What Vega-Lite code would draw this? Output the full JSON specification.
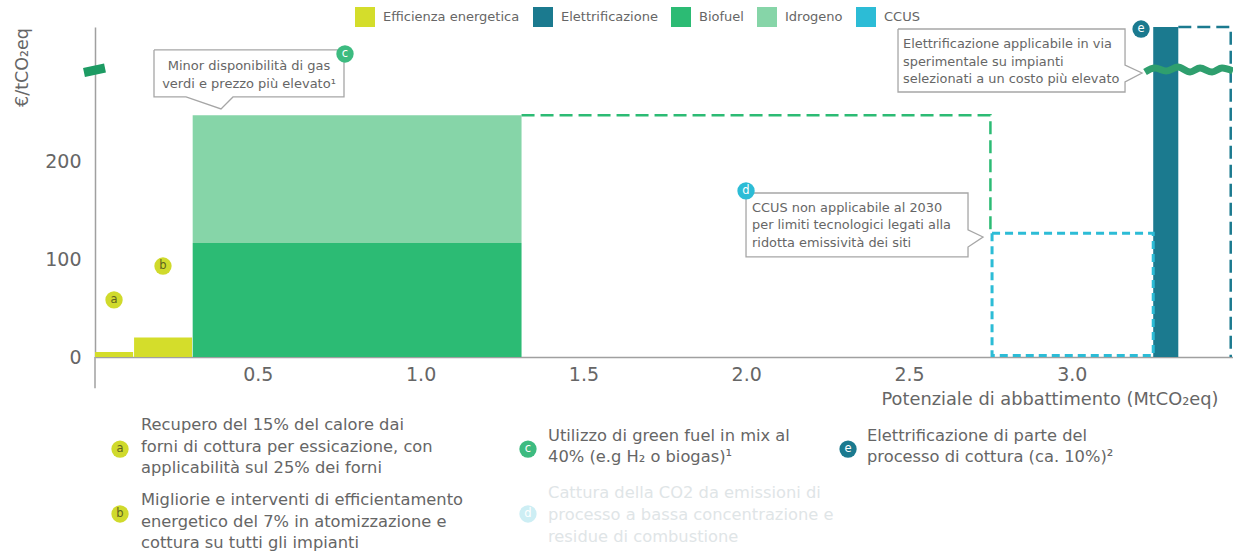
{
"$schema":"https://vega.github.io/schema/vega-lite/v6.json",
"width":1138,"height":330,
"autosize":"none",
"padding":{"left":95,"top":27,"right":0,"bottom":195},
"background":"white",
"config":{"view":{"stroke":null},"font":"DejaVu Sans"},
"encoding":{
"x":{"field":"x","type":"quantitative","scale":{"domain":[0,3.495],"nice":false,"zero":false},
"axis":{"values":[0.5,1,1.5,2,2.5,3],"format":".1f","grid":false,"ticks":false,"labelFontSize":19,"labelColor":"#666666","labelPadding":8,"domainColor":"#a0a0a0","domainWidth":1.5,"title":"Potenziale di abbattimento (MtCO₂eq)","titleFontSize":17.8,"titleFontWeight":"normal","titleColor":"#666666","titleAlign":"right","titleAnchor":"end","titleX":1123,"titleY":33}},
"y":{"field":"y","type":"quantitative","scale":{"domain":[0,338.46],"nice":false,"zero":false},
"axis":{"values":[0,100,200],"grid":false,"ticks":false,"labelFontSize":19,"labelColor":"#666666","labelPadding":14,"domainColor":"#a0a0a0","domainWidth":1.5,"title":"€/tCO₂eq","titleFontSize":17.5,"titleFontWeight":"normal","titleColor":"#666666","titleX":-64,"titleY":40,"titleAlign":"center"}}
},
"layer":[
{"data":{"values":[
{"tech":"Efficienza energetica","x":0,"x2":0.117,"y":0,"y2":5},
{"tech":"Efficienza energetica","x":0.12,"x2":0.298,"y":0,"y2":20},
{"tech":"Biofuel","x":0.3,"x2":1.31,"y":0,"y2":117},
{"tech":"Idrogeno","x":0.3,"x2":1.31,"y":117,"y2":248},
{"tech":"Elettrificazione","x":3.25,"x2":3.327,"y":0,"y2":338.4}
]},
"mark":{"type":"rect"},
"encoding":{"x2":{"field":"x2"},"y2":{"field":"y2"},
"color":{"field":"tech","type":"nominal","scale":{"domain":["Efficienza energetica","Elettrificazione","Biofuel","Idrogeno","CCUS"],"range":["#d4dd2b","#1b7a8f","#2cbb74","#86d5a8","#2cbcd6"]},
"legend":{"title":null,"orient":"none","legendX":260,"legendY":-20,"direction":"horizontal","gridAlign":"none","columns":5,"symbolType":"square","symbolSize":400,"symbolStrokeWidth":0,"symbolOpacity":1,"labelFontSize":13,"labelColor":"#666666","labelOffset":8,"columnPadding":13,"padding":0}}}},
{"data":{"values":[
{"tech":"Biofuel","i":1,"x":1.31,"y":248},{"tech":"Biofuel","i":2,"x":2.75,"y":248},{"tech":"Biofuel","i":3,"x":2.75,"y":127},
{"tech":"Elettrificazione","i":1,"x":3.327,"y":338.4},{"tech":"Elettrificazione","i":2,"x":3.488,"y":338.4},{"tech":"Elettrificazione","i":3,"x":3.488,"y":0}
]},
"mark":{"type":"line","strokeWidth":2.5,"strokeDash":[13,6],"clip":false},
"encoding":{"color":{"field":"tech","type":"nominal","legend":null},"order":{"field":"i","type":"quantitative"}}},
{"data":{"values":[
{"tech":"CCUS","i":1,"x":2.755,"y":127},{"tech":"CCUS","i":2,"x":3.25,"y":127},{"tech":"CCUS","i":3,"x":3.25,"y":1.5},{"tech":"CCUS","i":4,"x":2.755,"y":1.5},{"tech":"CCUS","i":5,"x":2.755,"y":127}
]},
"mark":{"type":"line","strokeWidth":3,"strokeDash":[8,5],"clip":false},
"encoding":{"color":{"field":"tech","type":"nominal","legend":null},"order":{"field":"i","type":"quantitative"}}},
{"data":{"values":[{"x":0,"y":-32,"y2":0}]},"mark":{"type":"rule","color":"#a0a0a0","strokeWidth":1.5},"encoding":{"y2":{"field":"y2"}}},
{"data":{"values":[
{"i":1,"x":3.2248,"y":292.3},{"i":2,"x":3.2555,"y":296.4},{"i":3,"x":3.2893,"y":293.3},{"i":4,"x":3.3262,"y":297.4},{"i":5,"x":3.363,"y":292.3},{"i":6,"x":3.3937,"y":296.4},{"i":7,"x":3.4306,"y":292.3},{"i":8,"x":3.4613,"y":296.4},{"i":9,"x":3.4951,"y":293.3}
]},
"mark":{"type":"line","color":"#2f9f6e","strokeWidth":7,"interpolate":"monotone"},
"encoding":{"order":{"field":"i","type":"quantitative"}}},
{"data":{"values":[{"i":1,"x":-0.0338,"y":291.8},{"i":2,"x":0.0307,"y":296.4}]},
"mark":{"type":"line","color":"#1d9b63","strokeWidth":9},
"encoding":{"order":{"field":"i","type":"quantitative"}}},
{"data":{"values":[
{"c":"c","i":1,"x":0.1812,"y":314.9},{"c":"c","i":2,"x":0.7647,"y":314.9},{"c":"c","i":3,"x":0.7647,"y":266.7},{"c":"c","i":4,"x":0.4238,"y":266.7},{"c":"c","i":5,"x":0.387,"y":254.4},{"c":"c","i":6,"x":0.2795,"y":266.7},{"c":"c","i":7,"x":0.1812,"y":266.7},{"c":"c","i":8,"x":0.1812,"y":314.9},
{"c":"d","i":1,"x":1.9994,"y":168.2},{"c":"d","i":2,"x":2.6812,"y":168.2},{"c":"d","i":3,"x":2.6812,"y":130.3},{"c":"d","i":4,"x":2.7273,"y":123.1},{"c":"d","i":5,"x":2.6812,"y":112.8},{"c":"d","i":6,"x":2.6812,"y":102.6},{"c":"d","i":7,"x":1.9994,"y":102.6},{"c":"d","i":8,"x":1.9994,"y":168.2},
{"c":"e","i":1,"x":2.4662,"y":336.4},{"c":"e","i":2,"x":3.1634,"y":336.4},{"c":"e","i":3,"x":3.1634,"y":299.5},{"c":"e","i":4,"x":3.2156,"y":291.3},{"c":"e","i":5,"x":3.1634,"y":282.1},{"c":"e","i":6,"x":3.1634,"y":271.8},{"c":"e","i":7,"x":2.4662,"y":271.8},{"c":"e","i":8,"x":2.4662,"y":336.4}
]},
"mark":{"type":"line","color":"#a6a6a6","strokeWidth":1.3},
"encoding":{"detail":{"field":"c"},"order":{"field":"i","type":"quantitative"}}},
{"data":{"values":[
{"t":"Minor disponibilità di gas","x":0.473,"y":298.5},
{"t":"verdi e prezzo più elevato¹","x":0.473,"y":280}
]},
"mark":{"type":"text","align":"center","baseline":"middle","fontSize":13,"color":"#666666"},
"encoding":{"text":{"field":"t"}}},
{"data":{"values":[
{"t":"CCUS non applicabile al 2030","x":2.0178,"y":152.8},
{"t":"per limiti tecnologici legati alla","x":2.0178,"y":134.9},
{"t":"ridotta emissività dei siti","x":2.0178,"y":116.9},
{"t":"Elettrificazione applicabile in via","x":2.4816,"y":321},
{"t":"sperimentale su impianti","x":2.4816,"y":302.6},
{"t":"selezionati a un costo più elevato","x":2.4816,"y":285.1}
]},
"mark":{"type":"text","align":"left","baseline":"middle","fontSize":12.9,"color":"#666666"},
"encoding":{"text":{"field":"t"}}},
{"data":{"values":[
{"t":"Recupero del 15% del calore dai","x":0.1413,"y":-69.7},
{"t":"forni di cottura per essicazione, con","x":0.1413,"y":-92.3},
{"t":"applicabilità sul 25% dei forni","x":0.1413,"y":-113.8},
{"t":"Migliorie e interventi di efficientamento","x":0.1413,"y":-146.7},
{"t":"energetico del 7% in atomizzazione e","x":0.1413,"y":-169.2},
{"t":"cottura su tutti gli impianti","x":0.1413,"y":-190.8},
{"t":"Utilizzo di green fuel in mix al","x":1.3913,"y":-81},
{"t":"40% (e.g H₂ o biogas)¹","x":1.3913,"y":-102.6},
{"t":"Elettrificazione di parte del","x":2.371,"y":-81},
{"t":"processo di cottura (ca. 10%)²","x":2.371,"y":-102.6}
]},
"mark":{"type":"text","align":"left","baseline":"middle","fontSize":16.3,"color":"#666666"},
"encoding":{"text":{"field":"t"}}},
{"data":{"values":[
{"t":"Cattura della CO2 da emissioni di","x":1.3913,"y":-139.5},
{"t":"processo a bassa concentrazione e","x":1.3913,"y":-162},
{"t":"residue di combustione","x":1.3913,"y":-184.6}
]},
"mark":{"type":"text","align":"left","baseline":"middle","fontSize":16.3,"color":"#dfe5e7"},
"encoding":{"text":{"field":"t"}}},
{"data":{"values":[
{"b":"a","g":"Efficienza","x":0.0584,"y":58.5},
{"b":"b","g":"Efficienza","x":0.2088,"y":93.3},
{"b":"c","g":"Green","x":0.7678,"y":310.8},
{"b":"d","g":"CCUS","x":1.9994,"y":170.3},
{"b":"e","g":"Elettr","x":3.2126,"y":336.4},
{"b":"a","g":"Efficienza","x":0.0768,"y":-94.4},
{"b":"b","g":"Efficienza","x":0.0768,"y":-161},
{"b":"c","g":"Green","x":1.3298,"y":-94.4},
{"b":"d","g":"Pale","x":1.3298,"y":-161},
{"b":"e","g":"Elettr","x":2.3127,"y":-94.4}
]},
"layer":[
{"mark":{"type":"point","shape":"circle","filled":true,"opacity":1,"size":300},
"encoding":{"fill":{"field":"g","type":"nominal","legend":null,"scale":{"domain":["Efficienza","Green","CCUS","Elettr","Pale"],"range":["#d0da2c","#3dbb80","#2cbcd6","#1b7a8f","#cdeef4"]}}}},
{"mark":{"type":"text","align":"center","baseline":"middle","fontSize":11.5},
"encoding":{"text":{"field":"b"},"color":{"condition":{"test":"datum.g==='Efficienza'","value":"#5f6320"},"value":"#ffffff"}}}
]}
]
}
